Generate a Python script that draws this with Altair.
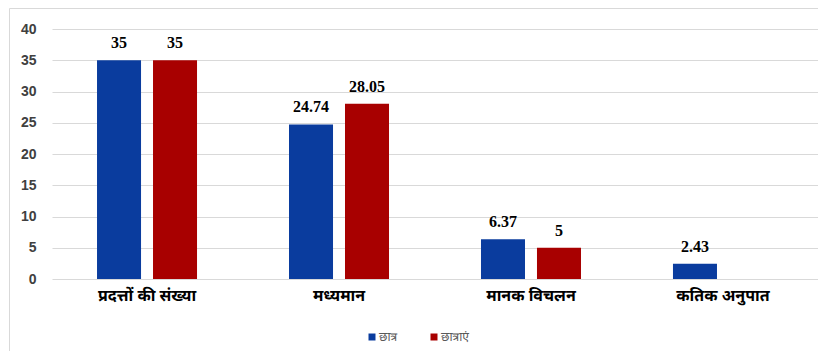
import altair as alt
import pandas as pd

categories = ["प्रदत्तों की संख्या", "मध्यमान", "मानक विचलन", "कतिक अनुपात"]
series = ["छात्र", "छात्राएं"]
boys = [35, 24.74, 6.37, 2.43]
girls = [35, 28.05, 5, None]
colors = ["#0A3C9E", "#A80000"]

rows = []
for c, b, g in zip(categories, boys, girls):
    rows.append({"cat": c, "series": series[0], "value": b, "label": f"{b:g}"})
    if g is not None:
        rows.append({"cat": c, "series": series[1], "value": g, "label": f"{g:g}"})
df = pd.DataFrame(rows)

dev_font = "Noto Sans Devanagari, Lohit Devanagari, Mangal, Noto Sans, sans-serif"

x = alt.X("cat:N", sort=categories, title=None,
          scale=alt.Scale(paddingInner=0.4167, paddingOuter=0.2033),
          axis=alt.Axis(labelAngle=0, labelFont=dev_font, labelFontSize=16,
                        labelFontWeight="bold", labelColor="#000000",
                        labelPadding=8, domain=False, ticks=False))
xo = alt.XOffset("series:N", sort=series,
                 scale=alt.Scale(paddingInner=0.214, paddingOuter=0.107))
y = alt.Y("value:Q", title=None,
          scale=alt.Scale(domain=[0, 40]),
          axis=alt.Axis(values=list(range(0, 41, 5)), labelFont="Liberation Sans",
                        labelFontSize=14, labelFontWeight="bold", labelColor="#404040",
                        labelPadding=16, domain=False, ticks=False,
                        gridColor="#d9d9d9", gridWidth=1))
color = alt.Color("series:N", sort=series,
                  scale=alt.Scale(domain=series, range=colors),
                  legend=alt.Legend(title=None, orient="none", legendX=314, legendY=302,
                                    direction="horizontal",
                                    symbolType="square", symbolSize=49,
                                    symbolStrokeWidth=0,
                                    labelFont=dev_font, labelFontSize=12,
                                    labelColor="#595959", labelOffset=1,
                                    columnPadding=30, padding=0))

frame = alt.Chart(pd.DataFrame({"f": [0]})).mark_rect(
    fill=None, stroke="#d9d9d9", strokeWidth=1
).encode(x=alt.value(-42.5), y=alt.value(-20.5), x2=alt.value(800), y2=alt.value(340))

base = alt.Chart(df).encode(x=x, xOffset=xo, y=y)
bars = base.mark_bar().encode(color=color)
text = base.mark_text(baseline="bottom", dy=-9, font="Liberation Serif",
                      fontSize=16, fontWeight="bold", color="#000000").encode(text="label:N")

chart = alt.layer(frame, bars, text).properties(
    width=766, height=250,
    padding={"left": 44, "top": 21, "right": 0, "bottom": 72},
    autosize=alt.AutoSizeParams(type="none"),
    background="white",
).configure_view(stroke=None)

chart.save("out.html", embed_options={"renderer": "svg", "actions": False})
